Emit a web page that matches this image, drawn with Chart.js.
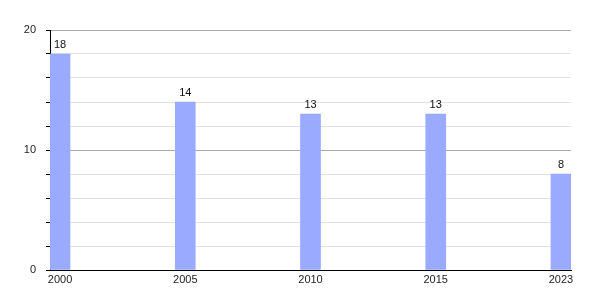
<!DOCTYPE html>
<html>
<head>
  <meta charset="utf-8">
  <title>Bar chart</title>
  <script src="https://cdn.jsdelivr.net/npm/chart.js@4/dist/chart.umd.min.js"></script>
  <style>
    html, body { margin: 0; padding: 0; background: #fff; }
    #wrap { width: 600px; height: 300px; }
  </style>
</head>
<body>
<div id="wrap"><canvas id="canvas"></canvas></div>
<script>
// chart data
var years = ['2000', '2005', '2010', '2015', '2023'];
var values = [18, 14, 13, 13, 8];
var yTicks = [0, 10, 20];

Chart.defaults.font.family = "'Liberation Sans', Arial, sans-serif";
Chart.defaults.font.size = 11;
Chart.defaults.color = '#222';

// value labels above bars
var barLabels = {
  id: 'barLabels',
  afterDatasetsDraw: function(chart) {
    var ctx = chart.ctx;
    var meta = chart.getDatasetMeta(0);
    ctx.save();
    ctx.font = "11px 'Liberation Sans', Arial, sans-serif";
    ctx.fillStyle = '#111';
    ctx.textAlign = 'center';
    ctx.textBaseline = 'bottom';
    meta.data.forEach(function(bar, i) {
      ctx.fillText(values[i], bar.x, bar.y - 4);
    });
    ctx.restore();
  }
};

var config = {
  type: 'bar',
  data: {
    datasets: [{
      data: values.map(function(v, i) { return { x: i, y: v }; }),
      backgroundColor: '#99aaff',
      barThickness: 20
    }]
  },
  options: {
    responsive: true,
    maintainAspectRatio: false,
    animation: false,
    layout: { padding: { top: 30, right: 29, left: 0, bottom: 0 } },
    plugins: {
      legend: { display: false },
      tooltip: { enabled: false }
    },
    scales: {
      x: {
        type: 'linear',
        offset: false,
        min: -0.08,
        max: 4.08,
        afterBuildTicks: function(scale) {
          scale.ticks = years.map(function(_, i) { return { value: i }; });
        },
        afterFit: function(scale) { scale.height = 30; },
        ticks: {
          padding: 3,
          maxRotation: 0,
          callback: function(v) { return years[v]; }
        },
        grid: { display: false, offset: false, tickLength: 0 },
        border: { color: '#000', width: 1 }
      },
      y: {
        min: 0,
        max: 20,
        afterFit: function(scale) { scale.width = 50; },
        ticks: {
          stepSize: 2,
          padding: 10,
          callback: function(v) { return yTicks.indexOf(v) >= 0 ? v : ''; }
        },
        grid: {
          tickLength: 4,
          tickColor: '#000',
          color: function(ctx) {
            if (!ctx.tick) return '#e2e2e2';
            if (ctx.tick.value === 0) return '#000';
            return ctx.tick.value % 10 === 0 ? '#aaaaaa' : '#e2e2e2';
          }
        },
        border: { color: '#000', width: 1 }
      }
    }
  },
  plugins: [barLabels]
};

window.myBar = new Chart(document.getElementById('canvas'), config);
</script>
</body>
</html>
